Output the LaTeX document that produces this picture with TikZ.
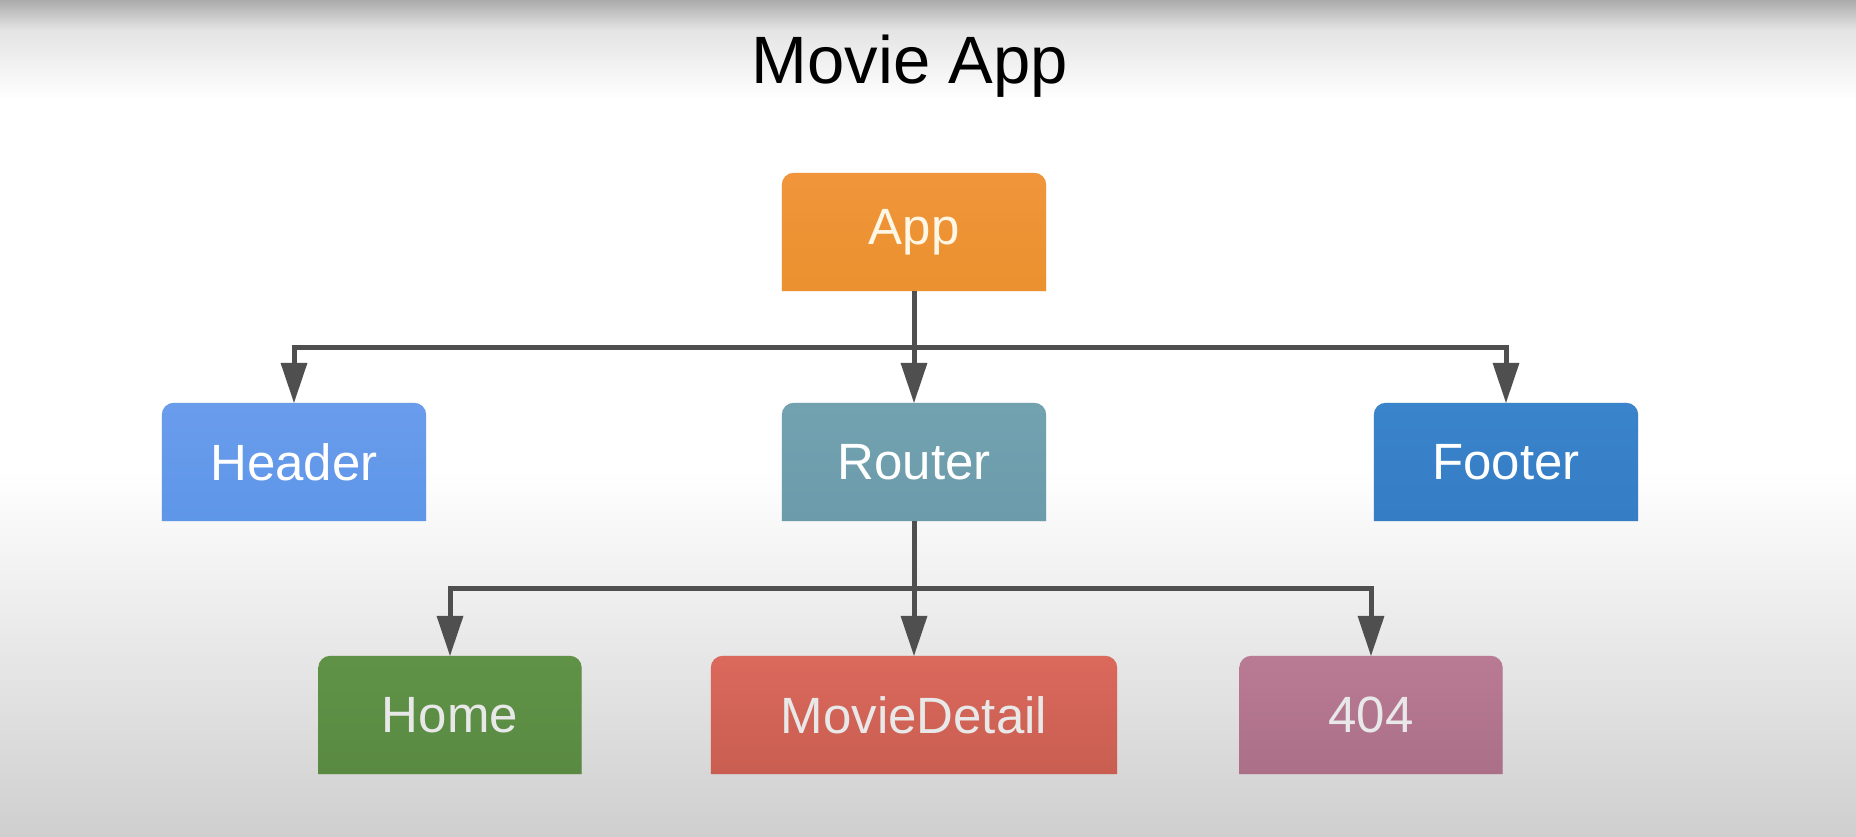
\documentclass[tikz,border=0pt]{standalone}
\usepackage{fontspec}
\setmainfont{Liberation Sans}
\usetikzlibrary{arrows.meta,backgrounds}
\definecolor{bgtop}{HTML}{ABABAB}
\definecolor{bgmid}{HTML}{E4E4E4}
\definecolor{bgbot}{HTML}{CFCFCF}
\definecolor{linegray}{HTML}{4F4F4F}
\definecolor{appA}{HTML}{F0953A}\definecolor{appB}{HTML}{EC912F}
\definecolor{hdrA}{HTML}{6A9CEC}\definecolor{hdrB}{HTML}{5E96E8}
\definecolor{rtrA}{HTML}{72A2B0}\definecolor{rtrB}{HTML}{6C9CAB}
\definecolor{ftrA}{HTML}{3A84CC}\definecolor{ftrB}{HTML}{357DC4}
\definecolor{homA}{HTML}{5F9247}\definecolor{homB}{HTML}{5A8A42}
\definecolor{mdA}{HTML}{DB695C}\definecolor{mdB}{HTML}{C85E51}
\definecolor{nfA}{HTML}{B97B93}\definecolor{nfB}{HTML}{AB6F88}
\definecolor{creamtext}{HTML}{FFF7E6}
\definecolor{lighttext}{HTML}{E8E8E8}
\newcommand\tabfill[3]{%
  \fill[black,opacity=0.10,xshift=5pt,yshift=-4pt] (#1.south west) -- ([yshift=-12pt]#1.north west) arc[start angle=180,end angle=90,radius=12pt] -- ([xshift=-12pt]#1.north east) arc[start angle=90,end angle=0,radius=12pt] -- (#1.south east) -- cycle;
  \shade[top color=#2,bottom color=#3] (#1.south west) -- ([yshift=-12pt]#1.north west) arc[start angle=180,end angle=90,radius=12pt] -- ([xshift=-12pt]#1.north east) arc[start angle=90,end angle=0,radius=12pt] -- (#1.south east) -- cycle;}
\begin{document}
\begin{tikzpicture}[x=1pt,y=1pt,
  box/.style={minimum width=264pt, minimum height=118pt, inner sep=0pt,
    font=\fontsize{51}{60}\selectfont, text=white},
  conn/.style={draw=linegray, line width=5pt},
  arr/.style={conn, -{Triangle[width=27pt,length=40pt,line width=0pt]}}]
\useasboundingbox (0,0) rectangle (1856,-836);
% nodes
\node[anchor=base, font=\fontsize{67}{80}\selectfont, text=black] (title) at (910,-83) {Movie App};
\node[box, text=creamtext] (app) at (914,-232) {App};
\node[box] (header) at (294,-462) {Header};
\node[box] (router) at (914,-462) {Router};
\node[box] (footer) at (1506,-462) {Footer};
\node[box, text=lighttext, minimum width=263pt] (home) at (450,-715) {Home};
\node[box, text=lighttext, minimum width=406pt] (md) at (914,-715) {MovieDetail};
\node[box, text=lighttext, minimum width=263pt] (nf) at (1371,-715) {404};
% background and box fills
\begin{scope}[on background layer]
  \fill[white] (0,0) rectangle (1856,-836);
  \shade[top color=bgtop, bottom color=bgmid] (0,0) rectangle (1856,-30);
  \shade[top color=bgmid, bottom color=white] (0,-30) rectangle (1856,-100);
  \shade[top color=white, bottom color=bgbot] (0,-470) rectangle (1856,-836);
  \tabfill{app}{appA}{appB}
  \tabfill{header}{hdrA}{hdrB}
  \tabfill{router}{rtrA}{rtrB}
  \tabfill{footer}{ftrA}{ftrB}
  \tabfill{home}{homA}{homB}
  \tabfill{md}{mdA}{mdB}
  \tabfill{nf}{nfA}{nfB}
\end{scope}
% connectors
\coordinate (j1) at (914,-347);
\coordinate (j2) at (914,-588);
\draw[conn] (app.south) -- (j1);
\draw[arr] (j1) -| (header.north);
\draw[arr] (j1) -- (router.north);
\draw[arr] (j1) -| (footer.north);
\draw[conn] (router.south) -- (j2);
\draw[arr] (j2) -| (home.north);
\draw[arr] (j2) -- (md.north);
\draw[arr] (j2) -| (nf.north);
\end{tikzpicture}
\end{document}
